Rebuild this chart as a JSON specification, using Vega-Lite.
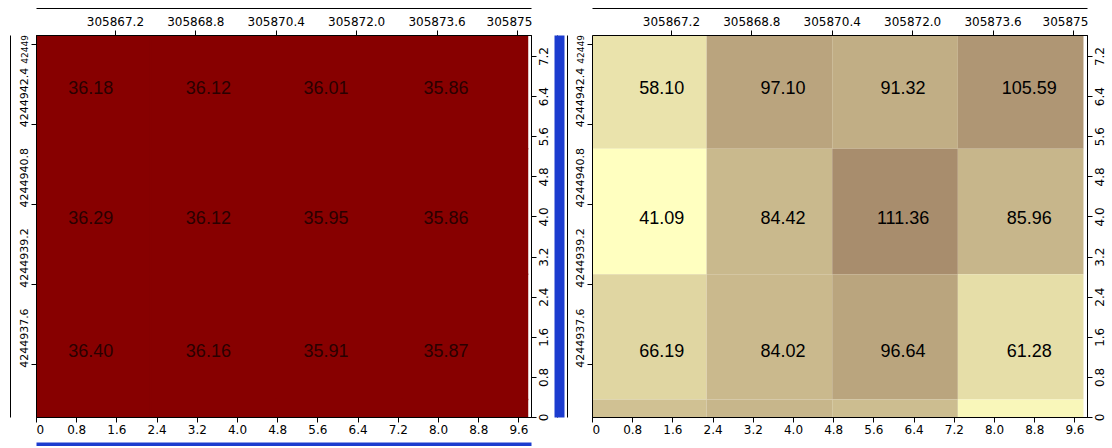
{
  "$schema": "https://vega.github.io/schema/vega-lite/v6.json",
  "background": "white",
  "padding": {"left": 9, "top": 7, "right": 0, "bottom": 0},
  "spacing": 0,
  "datasets": {
    "left": [
      {"x0": -0.22, "x1": 2.28, "y0": 5.35, "y1": 7.85, "v": 36.18, "lx": 1.09, "ly": 6.55},
      {"x0": 2.28, "x1": 4.78, "y0": 5.35, "y1": 7.85, "v": 36.12, "lx": 3.43, "ly": 6.55},
      {"x0": 4.78, "x1": 7.28, "y0": 5.35, "y1": 7.85, "v": 36.01, "lx": 5.77, "ly": 6.55},
      {"x0": 7.28, "x1": 9.78, "y0": 5.35, "y1": 7.85, "v": 35.86, "lx": 8.16, "ly": 6.55},
      {"x0": -0.22, "x1": 2.28, "y0": 2.85, "y1": 5.35, "v": 36.29, "lx": 1.09, "ly": 3.95},
      {"x0": 2.28, "x1": 4.78, "y0": 2.85, "y1": 5.35, "v": 36.12, "lx": 3.43, "ly": 3.95},
      {"x0": 4.78, "x1": 7.28, "y0": 2.85, "y1": 5.35, "v": 35.95, "lx": 5.77, "ly": 3.95},
      {"x0": 7.28, "x1": 9.78, "y0": 2.85, "y1": 5.35, "v": 35.86, "lx": 8.16, "ly": 3.95},
      {"x0": -0.22, "x1": 2.28, "y0": 0.35, "y1": 2.85, "v": 36.40, "lx": 1.09, "ly": 1.3},
      {"x0": 2.28, "x1": 4.78, "y0": 0.35, "y1": 2.85, "v": 36.16, "lx": 3.43, "ly": 1.3},
      {"x0": 4.78, "x1": 7.28, "y0": 0.35, "y1": 2.85, "v": 35.91, "lx": 5.77, "ly": 1.3},
      {"x0": 7.28, "x1": 9.78, "y0": 0.35, "y1": 2.85, "v": 35.87, "lx": 8.16, "ly": 1.3},
      {"x0": -0.22, "x1": 2.28, "y0": -2.15, "y1": 0.35, "v": null, "lx": null, "ly": null},
      {"x0": 2.28, "x1": 4.78, "y0": -2.15, "y1": 0.35, "v": null, "lx": null, "ly": null},
      {"x0": 4.78, "x1": 7.28, "y0": -2.15, "y1": 0.35, "v": null, "lx": null, "ly": null},
      {"x0": 7.28, "x1": 9.78, "y0": -2.15, "y1": 0.35, "v": null, "lx": null, "ly": null}
    ],
    "right": [
      {"x0": -0.22, "x1": 2.28, "y0": 5.35, "y1": 7.85, "v": 58.10, "lx": 1.39, "ly": 6.55},
      {"x0": 2.28, "x1": 4.78, "y0": 5.35, "y1": 7.85, "v": 97.10, "lx": 3.8, "ly": 6.55},
      {"x0": 4.78, "x1": 7.28, "y0": 5.35, "y1": 7.85, "v": 91.32, "lx": 6.19, "ly": 6.55},
      {"x0": 7.28, "x1": 9.78, "y0": 5.35, "y1": 7.85, "v": 105.59, "lx": 8.7, "ly": 6.55},
      {"x0": -0.22, "x1": 2.28, "y0": 2.85, "y1": 5.35, "v": 41.09, "lx": 1.39, "ly": 3.95},
      {"x0": 2.28, "x1": 4.78, "y0": 2.85, "y1": 5.35, "v": 84.42, "lx": 3.8, "ly": 3.95},
      {"x0": 4.78, "x1": 7.28, "y0": 2.85, "y1": 5.35, "v": 111.36, "lx": 6.19, "ly": 3.95},
      {"x0": 7.28, "x1": 9.78, "y0": 2.85, "y1": 5.35, "v": 85.96, "lx": 8.7, "ly": 3.95},
      {"x0": -0.22, "x1": 2.28, "y0": 0.35, "y1": 2.85, "v": 66.19, "lx": 1.39, "ly": 1.3},
      {"x0": 2.28, "x1": 4.78, "y0": 0.35, "y1": 2.85, "v": 84.02, "lx": 3.8, "ly": 1.3},
      {"x0": 4.78, "x1": 7.28, "y0": 0.35, "y1": 2.85, "v": 96.64, "lx": 6.19, "ly": 1.3},
      {"x0": 7.28, "x1": 9.78, "y0": 0.35, "y1": 2.85, "v": 61.28, "lx": 8.7, "ly": 1.3},
      {"x0": -0.22, "x1": 2.28, "y0": -2.15, "y1": 0.35, "v": 79, "lx": null, "ly": null},
      {"x0": 2.28, "x1": 4.78, "y0": -2.15, "y1": 0.35, "v": 86, "lx": null, "ly": null},
      {"x0": 4.78, "x1": 7.28, "y0": -2.15, "y1": 0.35, "v": 82, "lx": null, "ly": null},
      {"x0": 7.28, "x1": 9.78, "y0": -2.15, "y1": 0.35, "v": 46, "lx": null, "ly": null}
    ]
  },
  "hconcat": [
    {
      "width": 495,
      "height": 382,
      "data": {"name": "left"},
      "resolve": {"axis": {"x": "independent", "y": "independent"}},
      "layer": [
        {
          "mark": {"type": "rect", "clip": true, "color": "#870000", "stroke": "#870000", "strokeWidth": 1.5},
          "encoding": {
            "x": {"field": "x0", "type": "quantitative", "scale": {"domain": [0, 9.85], "nice": false, "zero": false},
              "axis": {"orient": "bottom", "title": null, "grid": false, "zindex": 1, "values": [0, 0.8, 1.6, 2.4, 3.2, 4.0, 4.8, 5.6, 6.4, 7.2, 8.0, 8.8, 9.6], "labelExpr": "datum.value == 0 ? '0' : format(datum.value, '.1f')", "labelFlush": true}},
            "x2": {"field": "x1"},
            "y": {"field": "y0", "type": "quantitative", "scale": {"domain": [0, 7.62], "nice": false, "zero": false},
              "axis": {"orient": "right", "title": null, "grid": false, "zindex": 1, "values": [0, 0.8, 1.6, 2.4, 3.2, 4.0, 4.8, 5.6, 6.4, 7.2], "labelExpr": "datum.value == 0 ? '0' : format(datum.value, '.1f')", "labelAngle": 270, "labelAlign": "center", "labelBaseline": "top"}},
            "y2": {"field": "y1"}
          }
        },
        {
          "transform": [{"filter": "isValid(datum.lx)"}],
          "mark": {"type": "text", "font": "Liberation Sans", "fontSize": 18, "color": "#2a0000", "align": "center", "baseline": "middle"},
          "encoding": {
            "x": {"field": "lx", "type": "quantitative", "scale": {"domain": [0, 9.85], "nice": false, "zero": false},
              "axis": {"orient": "top", "title": null, "grid": false, "zindex": 1, "values": [1.57, 3.17, 4.77, 6.37, 7.97, 9.57], "labelExpr": "datum.value > 9 ? '305875' : format(datum.value + 305865.63, '.1f')", "labelOffset": {"condition": {"test": "datum.value > 9", "value": -8}, "value": 0}}},
            "y": {"field": "ly", "type": "quantitative", "scale": {"domain": [0, 7.62], "nice": false, "zero": false},
              "axis": {"orient": "left", "title": null, "grid": false, "zindex": 1, "values": [1.05, 2.65, 4.25, 5.85, 7.45], "labelExpr": "datum.value > 7 ? '42449' : format(datum.value + 4244936.55, '.1f')", "labelAngle": 270, "labelBaseline": "bottom", "labelAlign": {"condition": {"test": "datum.value > 7", "value": "right"}, "value": "left"}, "labelOffset": {"condition": {"test": "datum.value > 7", "value": -9}, "value": 3}, "labelFontSize": {"condition": {"test": "datum.value > 7", "value": 9}, "value": 11}}},
            "text": {"field": "v", "type": "quantitative", "format": ".2f"}
          }
        },
        {
          "mark": {"type": "point", "opacity": 0, "clip": true},
          "encoding": {
            "x": {"field": "x0", "type": "quantitative", "axis": {"orient": "top", "offset": 27, "title": null, "grid": false, "labels": false, "ticks": false, "domain": true, "domainColor": "black"}},
            "y": {"field": "y0", "type": "quantitative", "axis": {"orient": "left", "offset": 26, "title": null, "grid": false, "labels": false, "ticks": false, "domain": true, "domainColor": "black"}}
          }
        },
        {
          "mark": {"type": "point", "opacity": 0, "clip": true},
          "encoding": {
            "x": {"field": "x1", "type": "quantitative", "axis": {"orient": "bottom", "offset": 28, "title": null, "grid": false, "labels": false, "ticks": false, "domain": true, "domainColor": "#1c3ccf", "domainWidth": 6}},
            "y": {"field": "y1", "type": "quantitative", "axis": {"orient": "right", "offset": 26, "title": null, "grid": false, "labels": false, "ticks": false, "domain": true, "domainColor": "black"}}
          }
        }
      ]
    },
    {
      "width": 495,
      "height": 382,
      "data": {"name": "right"},
      "resolve": {"axis": {"x": "independent", "y": "independent"}},
      "layer": [
        {
          "mark": {"type": "rect", "clip": true},
          "encoding": {
            "x": {"field": "x0", "type": "quantitative", "scale": {"domain": [0, 9.85], "nice": false, "zero": false},
              "axis": {"orient": "bottom", "title": null, "grid": false, "zindex": 1, "values": [0, 0.8, 1.6, 2.4, 3.2, 4.0, 4.8, 5.6, 6.4, 7.2, 8.0, 8.8, 9.6], "labelExpr": "datum.value == 0 ? '0' : format(datum.value, '.1f')", "labelFlush": true}},
            "x2": {"field": "x1"},
            "y": {"field": "y0", "type": "quantitative", "scale": {"domain": [0, 7.62], "nice": false, "zero": false},
              "axis": {"orient": "right", "title": null, "grid": false, "zindex": 1, "values": [0, 0.8, 1.6, 2.4, 3.2, 4.0, 4.8, 5.6, 6.4, 7.2], "labelExpr": "datum.value == 0 ? '0' : format(datum.value, '.1f')", "labelAngle": 270, "labelAlign": "center", "labelBaseline": "top"}},
            "y2": {"field": "y1"},
            "color": {"field": "v", "type": "quantitative", "legend": null, "scale": {"domain": [41.09, 111.36], "range": ["#FFFFC0", "#A88D6D"], "interpolate": "rgb"}}
          }
        },
        {
          "transform": [{"filter": "isValid(datum.lx)"}],
          "mark": {"type": "text", "font": "Liberation Sans", "fontSize": 18, "color": "black", "align": "center", "baseline": "middle"},
          "encoding": {
            "x": {"field": "lx", "type": "quantitative", "scale": {"domain": [0, 9.85], "nice": false, "zero": false},
              "axis": {"orient": "top", "title": null, "grid": false, "zindex": 1, "values": [1.57, 3.17, 4.77, 6.37, 7.97, 9.57], "labelExpr": "datum.value > 9 ? '305875' : format(datum.value + 305865.63, '.1f')", "labelOffset": {"condition": {"test": "datum.value > 9", "value": -8}, "value": 0}}},
            "y": {"field": "ly", "type": "quantitative", "scale": {"domain": [0, 7.62], "nice": false, "zero": false},
              "axis": {"orient": "left", "title": null, "grid": false, "zindex": 1, "values": [1.05, 2.65, 4.25, 5.85, 7.45], "labelExpr": "datum.value > 7 ? '42449' : format(datum.value + 4244936.55, '.1f')", "labelAngle": 270, "labelBaseline": "bottom", "labelAlign": {"condition": {"test": "datum.value > 7", "value": "right"}, "value": "left"}, "labelOffset": {"condition": {"test": "datum.value > 7", "value": -9}, "value": 3}, "labelFontSize": {"condition": {"test": "datum.value > 7", "value": 9}, "value": 11}}},
            "text": {"field": "v", "type": "quantitative", "format": ".2f"}
          }
        },
        {
          "mark": {"type": "point", "opacity": 0, "clip": true},
          "encoding": {
            "x": {"field": "x0", "type": "quantitative", "axis": {"orient": "top", "offset": 27, "title": null, "grid": false, "labels": false, "ticks": false, "domain": true, "domainColor": "black"}},
            "y": {"field": "y0", "type": "quantitative", "axis": {"orient": "left", "offset": 25, "title": null, "grid": false, "labels": false, "ticks": false, "domain": true, "domainColor": "black"}}
          }
        },
        {
          "mark": {"type": "point", "opacity": 0, "clip": true},
          "encoding": {
            "x": {"field": "x1", "type": "quantitative", "axis": null},
            "y": {"field": "y1", "type": "quantitative", "axis": {"orient": "left", "offset": 33, "title": null, "grid": false, "labels": false, "ticks": false, "domain": true, "domainColor": "#1c3ccf", "domainWidth": 10}}
          }
        }
      ]
    }
  ],
  "config": {
    "view": {"stroke": "black", "strokeWidth": 1},
    "axis": {"labelFont": "DejaVu Sans", "labelFontSize": 12, "labelColor": "black", "tickColor": "black", "domainColor": "black", "tickSize": 5, "labelPadding": 2, "labelOverlap": false}
  }
}
